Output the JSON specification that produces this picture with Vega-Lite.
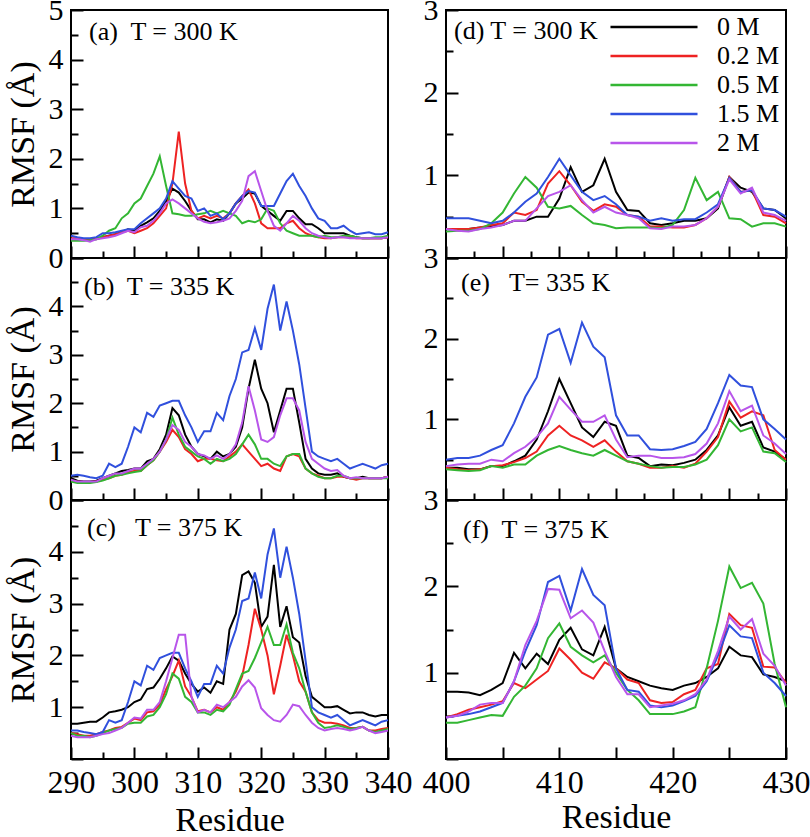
{
  "$schema": "https://vega.github.io/schema/vega-lite/v6.json",
  "background": "white",
  "padding": {"left": 5, "top": -6, "right": 0, "bottom": 0},
  "columns": 2,
  "spacing": {"row": 0, "column": 58},
  "bounds": "flush",
  "datasets": {
    "rmsf": [
      {"p":"a","r":290,"0 M":0.38,"0.2 M":0.40,"0.5 M":0.35,"1.5 M":0.45,"2 M":0.38},
      {"p":"a","r":291,"0 M":0.38,"0.2 M":0.40,"0.5 M":0.35,"1.5 M":0.42,"2 M":0.38},
      {"p":"a","r":292,"0 M":0.37,"0.2 M":0.38,"0.5 M":0.35,"1.5 M":0.40,"2 M":0.36},
      {"p":"a","r":293,"0 M":0.38,"0.2 M":0.38,"0.5 M":0.36,"1.5 M":0.40,"2 M":0.33},
      {"p":"a","r":294,"0 M":0.38,"0.2 M":0.40,"0.5 M":0.38,"1.5 M":0.42,"2 M":0.38},
      {"p":"a","r":295,"0 M":0.42,"0.2 M":0.42,"0.5 M":0.45,"1.5 M":0.50,"2 M":0.40},
      {"p":"a","r":296,"0 M":0.45,"0.2 M":0.45,"0.5 M":0.55,"1.5 M":0.50,"2 M":0.42},
      {"p":"a","r":297,"0 M":0.48,"0.2 M":0.48,"0.5 M":0.60,"1.5 M":0.52,"2 M":0.45},
      {"p":"a","r":298,"0 M":0.52,"0.2 M":0.52,"0.5 M":0.80,"1.5 M":0.55,"2 M":0.50},
      {"p":"a","r":299,"0 M":0.58,"0.2 M":0.55,"0.5 M":0.90,"1.5 M":0.58,"2 M":0.55},
      {"p":"a","r":300,"0 M":0.55,"0.2 M":0.50,"0.5 M":1.10,"1.5 M":0.58,"2 M":0.52},
      {"p":"a","r":301,"0 M":0.65,"0.2 M":0.55,"0.5 M":1.20,"1.5 M":0.70,"2 M":0.62},
      {"p":"a","r":302,"0 M":0.72,"0.2 M":0.60,"0.5 M":1.45,"1.5 M":0.80,"2 M":0.65},
      {"p":"a","r":303,"0 M":0.80,"0.2 M":0.70,"0.5 M":1.70,"1.5 M":0.90,"2 M":0.75},
      {"p":"a","r":304,"0 M":0.95,"0.2 M":0.85,"0.5 M":2.05,"1.5 M":1.00,"2 M":0.90},
      {"p":"a","r":305,"0 M":1.15,"0.2 M":1.00,"0.5 M":1.45,"1.5 M":1.20,"2 M":1.10},
      {"p":"a","r":306,"0 M":1.40,"0.2 M":1.50,"0.5 M":0.90,"1.5 M":1.55,"2 M":1.18},
      {"p":"a","r":307,"0 M":1.32,"0.2 M":2.55,"0.5 M":0.88,"1.5 M":1.40,"2 M":1.10},
      {"p":"a","r":308,"0 M":1.15,"0.2 M":1.50,"0.5 M":0.85,"1.5 M":1.25,"2 M":1.00},
      {"p":"a","r":309,"0 M":0.95,"0.2 M":0.95,"0.5 M":0.85,"1.5 M":1.20,"2 M":0.90},
      {"p":"a","r":310,"0 M":0.78,"0.2 M":0.80,"0.5 M":0.88,"1.5 M":0.95,"2 M":0.80},
      {"p":"a","r":311,"0 M":0.78,"0.2 M":0.85,"0.5 M":0.90,"1.5 M":1.00,"2 M":0.73},
      {"p":"a","r":312,"0 M":0.72,"0.2 M":0.80,"0.5 M":0.95,"1.5 M":0.85,"2 M":0.70},
      {"p":"a","r":313,"0 M":0.78,"0.2 M":0.85,"0.5 M":0.90,"1.5 M":0.90,"2 M":0.72},
      {"p":"a","r":314,"0 M":0.75,"0.2 M":0.80,"0.5 M":0.95,"1.5 M":0.78,"2 M":0.75},
      {"p":"a","r":315,"0 M":0.90,"0.2 M":0.90,"0.5 M":0.90,"1.5 M":0.90,"2 M":0.80},
      {"p":"a","r":316,"0 M":1.10,"0.2 M":1.10,"0.5 M":0.85,"1.5 M":1.10,"2 M":0.95},
      {"p":"a","r":317,"0 M":1.20,"0.2 M":1.25,"0.5 M":0.70,"1.5 M":1.25,"2 M":1.15},
      {"p":"a","r":318,"0 M":1.32,"0.2 M":1.38,"0.5 M":0.75,"1.5 M":1.35,"2 M":1.65},
      {"p":"a","r":319,"0 M":1.30,"0.2 M":1.10,"0.5 M":0.72,"1.5 M":1.32,"2 M":1.75},
      {"p":"a","r":320,"0 M":1.05,"0.2 M":0.70,"0.5 M":0.78,"1.5 M":1.05,"2 M":1.35},
      {"p":"a","r":321,"0 M":0.95,"0.2 M":0.60,"0.5 M":1.00,"1.5 M":1.05,"2 M":0.95},
      {"p":"a","r":322,"0 M":0.85,"0.2 M":0.60,"0.5 M":0.95,"1.5 M":1.05,"2 M":0.65},
      {"p":"a","r":323,"0 M":0.75,"0.2 M":0.60,"0.5 M":0.70,"1.5 M":1.30,"2 M":0.55},
      {"p":"a","r":324,"0 M":0.95,"0.2 M":0.70,"0.5 M":0.55,"1.5 M":1.55,"2 M":0.70},
      {"p":"a","r":325,"0 M":0.95,"0.2 M":0.75,"0.5 M":0.50,"1.5 M":1.70,"2 M":0.85},
      {"p":"a","r":326,"0 M":0.80,"0.2 M":0.60,"0.5 M":0.45,"1.5 M":1.45,"2 M":0.75},
      {"p":"a","r":327,"0 M":0.68,"0.2 M":0.50,"0.5 M":0.45,"1.5 M":1.25,"2 M":0.60},
      {"p":"a","r":328,"0 M":0.68,"0.2 M":0.45,"0.5 M":0.45,"1.5 M":1.00,"2 M":0.50},
      {"p":"a","r":329,"0 M":0.60,"0.2 M":0.42,"0.5 M":0.42,"1.5 M":0.80,"2 M":0.45},
      {"p":"a","r":330,"0 M":0.50,"0.2 M":0.40,"0.5 M":0.45,"1.5 M":0.75,"2 M":0.42},
      {"p":"a","r":331,"0 M":0.50,"0.2 M":0.40,"0.5 M":0.42,"1.5 M":0.60,"2 M":0.40},
      {"p":"a","r":332,"0 M":0.50,"0.2 M":0.42,"0.5 M":0.42,"1.5 M":0.60,"2 M":0.42},
      {"p":"a","r":333,"0 M":0.50,"0.2 M":0.42,"0.5 M":0.45,"1.5 M":0.65,"2 M":0.42},
      {"p":"a","r":334,"0 M":0.45,"0.2 M":0.42,"0.5 M":0.45,"1.5 M":0.55,"2 M":0.40},
      {"p":"a","r":335,"0 M":0.42,"0.2 M":0.40,"0.5 M":0.42,"1.5 M":0.48,"2 M":0.40},
      {"p":"a","r":336,"0 M":0.40,"0.2 M":0.40,"0.5 M":0.40,"1.5 M":0.50,"2 M":0.40},
      {"p":"a","r":337,"0 M":0.40,"0.2 M":0.40,"0.5 M":0.40,"1.5 M":0.52,"2 M":0.40},
      {"p":"a","r":338,"0 M":0.40,"0.2 M":0.40,"0.5 M":0.42,"1.5 M":0.48,"2 M":0.40},
      {"p":"a","r":339,"0 M":0.40,"0.2 M":0.40,"0.5 M":0.42,"1.5 M":0.48,"2 M":0.40},
      {"p":"a","r":340,"0 M":0.42,"0.2 M":0.42,"0.5 M":0.45,"1.5 M":0.52,"2 M":0.42},

      {"p":"b","r":290,"0 M":0.45,"0.2 M":0.40,"0.5 M":0.38,"1.5 M":0.50,"2 M":0.42},
      {"p":"b","r":291,"0 M":0.40,"0.2 M":0.38,"0.5 M":0.35,"1.5 M":0.52,"2 M":0.38},
      {"p":"b","r":292,"0 M":0.38,"0.2 M":0.37,"0.5 M":0.35,"1.5 M":0.50,"2 M":0.38},
      {"p":"b","r":293,"0 M":0.38,"0.2 M":0.37,"0.5 M":0.35,"1.5 M":0.47,"2 M":0.38},
      {"p":"b","r":294,"0 M":0.40,"0.2 M":0.38,"0.5 M":0.37,"1.5 M":0.45,"2 M":0.38},
      {"p":"b","r":295,"0 M":0.45,"0.2 M":0.42,"0.5 M":0.40,"1.5 M":0.50,"2 M":0.45},
      {"p":"b","r":296,"0 M":0.50,"0.2 M":0.45,"0.5 M":0.45,"1.5 M":0.75,"2 M":0.50},
      {"p":"b","r":297,"0 M":0.55,"0.2 M":0.50,"0.5 M":0.50,"1.5 M":0.68,"2 M":0.55},
      {"p":"b","r":298,"0 M":0.60,"0.2 M":0.52,"0.5 M":0.52,"1.5 M":0.75,"2 M":0.55},
      {"p":"b","r":299,"0 M":0.62,"0.2 M":0.58,"0.5 M":0.55,"1.5 M":1.10,"2 M":0.60},
      {"p":"b","r":300,"0 M":0.65,"0.2 M":0.60,"0.5 M":0.58,"1.5 M":1.50,"2 M":0.65},
      {"p":"b","r":301,"0 M":0.65,"0.2 M":0.60,"0.5 M":0.60,"1.5 M":1.40,"2 M":0.65},
      {"p":"b","r":302,"0 M":0.80,"0.2 M":0.72,"0.5 M":0.72,"1.5 M":1.80,"2 M":0.75},
      {"p":"b","r":303,"0 M":0.85,"0.2 M":0.82,"0.5 M":0.82,"1.5 M":1.72,"2 M":0.85},
      {"p":"b","r":304,"0 M":1.05,"0.2 M":1.00,"0.5 M":1.00,"1.5 M":1.95,"2 M":1.00},
      {"p":"b","r":305,"0 M":1.35,"0.2 M":1.20,"0.5 M":1.25,"1.5 M":2.00,"2 M":1.25},
      {"p":"b","r":306,"0 M":1.90,"0.2 M":1.45,"0.5 M":1.70,"1.5 M":2.05,"2 M":1.55},
      {"p":"b","r":307,"0 M":1.75,"0.2 M":1.30,"0.5 M":1.35,"1.5 M":2.05,"2 M":1.45},
      {"p":"b","r":308,"0 M":1.35,"0.2 M":1.05,"0.5 M":1.10,"1.5 M":1.75,"2 M":1.20},
      {"p":"b","r":309,"0 M":1.10,"0.2 M":0.95,"0.5 M":1.00,"1.5 M":1.50,"2 M":1.10},
      {"p":"b","r":310,"0 M":0.95,"0.2 M":0.80,"0.5 M":0.90,"1.5 M":1.20,"2 M":0.95},
      {"p":"b","r":311,"0 M":0.90,"0.2 M":0.85,"0.5 M":0.85,"1.5 M":1.42,"2 M":0.92},
      {"p":"b","r":312,"0 M":0.85,"0.2 M":0.85,"0.5 M":0.75,"1.5 M":1.42,"2 M":0.85},
      {"p":"b","r":313,"0 M":1.00,"0.2 M":0.82,"0.5 M":0.85,"1.5 M":1.80,"2 M":0.92},
      {"p":"b","r":314,"0 M":0.90,"0.2 M":0.80,"0.5 M":0.80,"1.5 M":1.65,"2 M":0.85},
      {"p":"b","r":315,"0 M":0.95,"0.2 M":0.90,"0.5 M":0.85,"1.5 M":2.15,"2 M":0.95},
      {"p":"b","r":316,"0 M":1.10,"0.2 M":1.00,"0.5 M":0.95,"1.5 M":2.50,"2 M":1.15},
      {"p":"b","r":317,"0 M":1.50,"0.2 M":1.15,"0.5 M":1.15,"1.5 M":3.05,"2 M":1.60},
      {"p":"b","r":318,"0 M":2.30,"0.2 M":1.00,"0.5 M":1.35,"1.5 M":3.10,"2 M":2.35},
      {"p":"b","r":319,"0 M":2.90,"0.2 M":0.85,"0.5 M":1.15,"1.5 M":3.55,"2 M":1.85},
      {"p":"b","r":320,"0 M":2.30,"0.2 M":0.70,"0.5 M":0.85,"1.5 M":3.10,"2 M":1.25},
      {"p":"b","r":321,"0 M":2.00,"0.2 M":0.75,"0.5 M":0.85,"1.5 M":3.95,"2 M":1.20},
      {"p":"b","r":322,"0 M":1.40,"0.2 M":0.65,"0.5 M":0.75,"1.5 M":4.45,"2 M":1.30},
      {"p":"b","r":323,"0 M":1.85,"0.2 M":0.60,"0.5 M":0.70,"1.5 M":3.50,"2 M":1.75},
      {"p":"b","r":324,"0 M":2.30,"0.2 M":0.90,"0.5 M":0.90,"1.5 M":4.10,"2 M":2.10},
      {"p":"b","r":325,"0 M":2.30,"0.2 M":0.95,"0.5 M":0.95,"1.5 M":3.50,"2 M":2.10},
      {"p":"b","r":326,"0 M":1.60,"0.2 M":0.90,"0.5 M":0.95,"1.5 M":2.80,"2 M":1.85},
      {"p":"b","r":327,"0 M":0.85,"0.2 M":0.65,"0.5 M":0.65,"1.5 M":1.90,"2 M":1.20},
      {"p":"b","r":328,"0 M":0.65,"0.2 M":0.55,"0.5 M":0.55,"1.5 M":1.00,"2 M":0.85},
      {"p":"b","r":329,"0 M":0.55,"0.2 M":0.50,"0.5 M":0.48,"1.5 M":0.90,"2 M":0.75},
      {"p":"b","r":330,"0 M":0.52,"0.2 M":0.45,"0.5 M":0.45,"1.5 M":0.85,"2 M":0.65},
      {"p":"b","r":331,"0 M":0.52,"0.2 M":0.45,"0.5 M":0.45,"1.5 M":0.80,"2 M":0.60},
      {"p":"b","r":332,"0 M":0.55,"0.2 M":0.48,"0.5 M":0.50,"1.5 M":0.85,"2 M":0.62},
      {"p":"b","r":333,"0 M":0.48,"0.2 M":0.48,"0.5 M":0.50,"1.5 M":0.75,"2 M":0.50},
      {"p":"b","r":334,"0 M":0.45,"0.2 M":0.45,"0.5 M":0.45,"1.5 M":0.65,"2 M":0.45},
      {"p":"b","r":335,"0 M":0.45,"0.2 M":0.42,"0.5 M":0.45,"1.5 M":0.70,"2 M":0.47},
      {"p":"b","r":336,"0 M":0.48,"0.2 M":0.45,"0.5 M":0.45,"1.5 M":0.75,"2 M":0.45},
      {"p":"b","r":337,"0 M":0.45,"0.2 M":0.45,"0.5 M":0.45,"1.5 M":0.70,"2 M":0.45},
      {"p":"b","r":338,"0 M":0.45,"0.2 M":0.45,"0.5 M":0.45,"1.5 M":0.65,"2 M":0.45},
      {"p":"b","r":339,"0 M":0.45,"0.2 M":0.45,"0.5 M":0.45,"1.5 M":0.72,"2 M":0.45},
      {"p":"b","r":340,"0 M":0.48,"0.2 M":0.48,"0.5 M":0.45,"1.5 M":0.75,"2 M":0.48},

      {"p":"c","r":290,"0 M":0.68,"0.2 M":0.50,"0.5 M":0.50,"1.5 M":0.55,"2 M":0.45},
      {"p":"c","r":291,"0 M":0.68,"0.2 M":0.48,"0.5 M":0.45,"1.5 M":0.55,"2 M":0.42},
      {"p":"c","r":292,"0 M":0.70,"0.2 M":0.45,"0.5 M":0.45,"1.5 M":0.52,"2 M":0.42},
      {"p":"c","r":293,"0 M":0.72,"0.2 M":0.45,"0.5 M":0.42,"1.5 M":0.50,"2 M":0.42},
      {"p":"c","r":294,"0 M":0.72,"0.2 M":0.48,"0.5 M":0.45,"1.5 M":0.48,"2 M":0.45},
      {"p":"c","r":295,"0 M":0.80,"0.2 M":0.52,"0.5 M":0.50,"1.5 M":0.52,"2 M":0.48},
      {"p":"c","r":296,"0 M":0.90,"0.2 M":0.55,"0.5 M":0.55,"1.5 M":0.75,"2 M":0.50},
      {"p":"c","r":297,"0 M":0.92,"0.2 M":0.60,"0.5 M":0.58,"1.5 M":0.70,"2 M":0.55},
      {"p":"c","r":298,"0 M":0.95,"0.2 M":0.62,"0.5 M":0.60,"1.5 M":0.75,"2 M":0.60},
      {"p":"c","r":299,"0 M":1.00,"0.2 M":0.70,"0.5 M":0.68,"1.5 M":1.10,"2 M":0.70},
      {"p":"c","r":300,"0 M":1.10,"0.2 M":0.78,"0.5 M":0.70,"1.5 M":1.50,"2 M":0.80},
      {"p":"c","r":301,"0 M":1.15,"0.2 M":0.75,"0.5 M":0.70,"1.5 M":1.42,"2 M":0.78},
      {"p":"c","r":302,"0 M":1.35,"0.2 M":0.90,"0.5 M":0.82,"1.5 M":1.80,"2 M":0.95},
      {"p":"c","r":303,"0 M":1.38,"0.2 M":0.92,"0.5 M":0.85,"1.5 M":1.72,"2 M":0.95},
      {"p":"c","r":304,"0 M":1.55,"0.2 M":1.05,"0.5 M":1.00,"1.5 M":1.95,"2 M":1.10},
      {"p":"c","r":305,"0 M":1.75,"0.2 M":1.35,"0.5 M":1.25,"1.5 M":2.00,"2 M":1.50},
      {"p":"c","r":306,"0 M":1.98,"0.2 M":1.60,"0.5 M":1.65,"1.5 M":2.05,"2 M":1.95},
      {"p":"c","r":307,"0 M":1.90,"0.2 M":1.90,"0.5 M":1.55,"1.5 M":2.05,"2 M":2.40},
      {"p":"c","r":308,"0 M":1.65,"0.2 M":1.40,"0.5 M":1.20,"1.5 M":1.75,"2 M":2.40},
      {"p":"c","r":309,"0 M":1.45,"0.2 M":1.20,"0.5 M":1.10,"1.5 M":1.50,"2 M":1.20},
      {"p":"c","r":310,"0 M":1.30,"0.2 M":0.92,"0.5 M":0.90,"1.5 M":1.20,"2 M":0.90},
      {"p":"c","r":311,"0 M":1.38,"0.2 M":0.95,"0.5 M":0.90,"1.5 M":1.45,"2 M":0.95},
      {"p":"c","r":312,"0 M":1.28,"0.2 M":0.90,"0.5 M":0.85,"1.5 M":1.45,"2 M":0.90},
      {"p":"c","r":313,"0 M":1.50,"0.2 M":1.00,"0.5 M":0.95,"1.5 M":1.80,"2 M":1.05},
      {"p":"c","r":314,"0 M":1.45,"0.2 M":0.95,"0.5 M":0.92,"1.5 M":1.65,"2 M":1.00},
      {"p":"c","r":315,"0 M":2.50,"0.2 M":1.10,"0.5 M":1.05,"1.5 M":2.15,"2 M":1.10},
      {"p":"c","r":316,"0 M":2.80,"0.2 M":1.30,"0.5 M":1.35,"1.5 M":2.50,"2 M":1.20},
      {"p":"c","r":317,"0 M":3.55,"0.2 M":1.60,"0.5 M":1.65,"1.5 M":3.05,"2 M":1.40},
      {"p":"c","r":318,"0 M":3.62,"0.2 M":2.20,"0.5 M":1.70,"1.5 M":3.10,"2 M":1.52},
      {"p":"c","r":319,"0 M":3.40,"0.2 M":2.90,"0.5 M":1.95,"1.5 M":3.60,"2 M":1.38},
      {"p":"c","r":320,"0 M":2.55,"0.2 M":2.50,"0.5 M":2.25,"1.5 M":3.10,"2 M":0.98},
      {"p":"c","r":321,"0 M":2.75,"0.2 M":2.00,"0.5 M":2.55,"1.5 M":3.95,"2 M":0.85},
      {"p":"c","r":322,"0 M":3.75,"0.2 M":1.25,"0.5 M":2.20,"1.5 M":4.45,"2 M":0.75},
      {"p":"c","r":323,"0 M":2.55,"0.2 M":1.80,"0.5 M":2.20,"1.5 M":3.50,"2 M":0.72},
      {"p":"c","r":324,"0 M":2.95,"0.2 M":2.40,"0.5 M":2.60,"1.5 M":4.10,"2 M":0.85},
      {"p":"c","r":325,"0 M":2.35,"0.2 M":2.00,"0.5 M":2.05,"1.5 M":3.50,"2 M":1.05},
      {"p":"c","r":326,"0 M":2.25,"0.2 M":1.50,"0.5 M":1.75,"1.5 M":2.80,"2 M":1.02},
      {"p":"c","r":327,"0 M":1.60,"0.2 M":1.30,"0.5 M":1.30,"1.5 M":1.90,"2 M":0.85},
      {"p":"c","r":328,"0 M":1.20,"0.2 M":0.90,"0.5 M":0.90,"1.5 M":1.00,"2 M":0.70},
      {"p":"c","r":329,"0 M":1.10,"0.2 M":0.75,"0.5 M":0.70,"1.5 M":0.90,"2 M":0.60},
      {"p":"c","r":330,"0 M":1.00,"0.2 M":0.70,"0.5 M":0.60,"1.5 M":0.85,"2 M":0.55},
      {"p":"c","r":331,"0 M":1.00,"0.2 M":0.70,"0.5 M":0.62,"1.5 M":0.80,"2 M":0.58},
      {"p":"c","r":332,"0 M":1.02,"0.2 M":0.68,"0.5 M":0.65,"1.5 M":0.85,"2 M":0.60},
      {"p":"c","r":333,"0 M":0.95,"0.2 M":0.65,"0.5 M":0.62,"1.5 M":0.75,"2 M":0.58},
      {"p":"c","r":334,"0 M":0.88,"0.2 M":0.60,"0.5 M":0.58,"1.5 M":0.65,"2 M":0.55},
      {"p":"c","r":335,"0 M":0.90,"0.2 M":0.60,"0.5 M":0.60,"1.5 M":0.70,"2 M":0.58},
      {"p":"c","r":336,"0 M":0.90,"0.2 M":0.62,"0.5 M":0.62,"1.5 M":0.75,"2 M":0.62},
      {"p":"c","r":337,"0 M":0.85,"0.2 M":0.55,"0.5 M":0.55,"1.5 M":0.70,"2 M":0.55},
      {"p":"c","r":338,"0 M":0.82,"0.2 M":0.55,"0.5 M":0.52,"1.5 M":0.65,"2 M":0.50},
      {"p":"c","r":339,"0 M":0.85,"0.2 M":0.58,"0.5 M":0.55,"1.5 M":0.72,"2 M":0.52},
      {"p":"c","r":340,"0 M":0.85,"0.2 M":0.60,"0.5 M":0.58,"1.5 M":0.75,"2 M":0.55},

      {"p":"d","r":400,"0 M":0.35,"0.2 M":0.35,"0.5 M":0.32,"1.5 M":0.48,"2 M":0.35},
      {"p":"d","r":401,"0 M":0.35,"0.2 M":0.35,"0.5 M":0.33,"1.5 M":0.48,"2 M":0.33},
      {"p":"d","r":402,"0 M":0.35,"0.2 M":0.35,"0.5 M":0.33,"1.5 M":0.48,"2 M":0.32},
      {"p":"d","r":403,"0 M":0.37,"0.2 M":0.37,"0.5 M":0.35,"1.5 M":0.45,"2 M":0.35},
      {"p":"d","r":404,"0 M":0.38,"0.2 M":0.40,"0.5 M":0.42,"1.5 M":0.42,"2 M":0.37},
      {"p":"d","r":405,"0 M":0.40,"0.2 M":0.42,"0.5 M":0.55,"1.5 M":0.45,"2 M":0.40},
      {"p":"d","r":406,"0 M":0.45,"0.2 M":0.55,"0.5 M":0.78,"1.5 M":0.55,"2 M":0.45},
      {"p":"d","r":407,"0 M":0.45,"0.2 M":0.52,"0.5 M":0.98,"1.5 M":0.68,"2 M":0.45},
      {"p":"d","r":408,"0 M":0.50,"0.2 M":0.58,"0.5 M":0.85,"1.5 M":0.78,"2 M":0.60},
      {"p":"d","r":409,"0 M":0.50,"0.2 M":0.90,"0.5 M":0.62,"1.5 M":0.98,"2 M":0.75},
      {"p":"d","r":410,"0 M":0.72,"0.2 M":1.05,"0.5 M":0.60,"1.5 M":1.20,"2 M":0.80},
      {"p":"d","r":411,"0 M":1.10,"0.2 M":0.88,"0.5 M":0.63,"1.5 M":1.00,"2 M":0.88},
      {"p":"d","r":412,"0 M":0.80,"0.2 M":0.68,"0.5 M":0.52,"1.5 M":0.80,"2 M":0.70},
      {"p":"d","r":413,"0 M":0.88,"0.2 M":0.57,"0.5 M":0.42,"1.5 M":0.70,"2 M":0.55},
      {"p":"d","r":414,"0 M":1.20,"0.2 M":0.65,"0.5 M":0.40,"1.5 M":0.75,"2 M":0.62},
      {"p":"d","r":415,"0 M":0.80,"0.2 M":0.62,"0.5 M":0.36,"1.5 M":0.65,"2 M":0.55},
      {"p":"d","r":416,"0 M":0.58,"0.2 M":0.52,"0.5 M":0.37,"1.5 M":0.52,"2 M":0.52},
      {"p":"d","r":417,"0 M":0.57,"0.2 M":0.50,"0.5 M":0.37,"1.5 M":0.50,"2 M":0.48},
      {"p":"d","r":418,"0 M":0.42,"0.2 M":0.38,"0.5 M":0.37,"1.5 M":0.45,"2 M":0.36},
      {"p":"d","r":419,"0 M":0.40,"0.2 M":0.38,"0.5 M":0.36,"1.5 M":0.48,"2 M":0.35},
      {"p":"d","r":420,"0 M":0.42,"0.2 M":0.37,"0.5 M":0.40,"1.5 M":0.45,"2 M":0.38},
      {"p":"d","r":421,"0 M":0.45,"0.2 M":0.37,"0.5 M":0.58,"1.5 M":0.47,"2 M":0.38},
      {"p":"d","r":422,"0 M":0.45,"0.2 M":0.40,"0.5 M":0.97,"1.5 M":0.47,"2 M":0.40},
      {"p":"d","r":423,"0 M":0.48,"0.2 M":0.48,"0.5 M":0.70,"1.5 M":0.55,"2 M":0.48},
      {"p":"d","r":424,"0 M":0.60,"0.2 M":0.62,"0.5 M":0.80,"1.5 M":0.65,"2 M":0.62},
      {"p":"d","r":425,"0 M":0.98,"0.2 M":0.98,"0.5 M":0.48,"1.5 M":0.97,"2 M":0.95},
      {"p":"d","r":426,"0 M":0.85,"0.2 M":0.80,"0.5 M":0.47,"1.5 M":0.80,"2 M":0.78},
      {"p":"d","r":427,"0 M":0.80,"0.2 M":0.82,"0.5 M":0.38,"1.5 M":0.82,"2 M":0.85},
      {"p":"d","r":428,"0 M":0.60,"0.2 M":0.52,"0.5 M":0.42,"1.5 M":0.60,"2 M":0.55},
      {"p":"d","r":429,"0 M":0.58,"0.2 M":0.50,"0.5 M":0.42,"1.5 M":0.58,"2 M":0.52},
      {"p":"d","r":430,"0 M":0.48,"0.2 M":0.42,"0.5 M":0.38,"1.5 M":0.50,"2 M":0.45},

      {"p":"e","r":400,"0 M":0.40,"0.2 M":0.40,"0.5 M":0.38,"1.5 M":0.50,"2 M":0.42},
      {"p":"e","r":401,"0 M":0.40,"0.2 M":0.38,"0.5 M":0.37,"1.5 M":0.52,"2 M":0.44},
      {"p":"e","r":402,"0 M":0.38,"0.2 M":0.37,"0.5 M":0.36,"1.5 M":0.52,"2 M":0.45},
      {"p":"e","r":403,"0 M":0.38,"0.2 M":0.38,"0.5 M":0.37,"1.5 M":0.55,"2 M":0.45},
      {"p":"e","r":404,"0 M":0.42,"0.2 M":0.42,"0.5 M":0.42,"1.5 M":0.62,"2 M":0.50},
      {"p":"e","r":405,"0 M":0.42,"0.2 M":0.43,"0.5 M":0.40,"1.5 M":0.68,"2 M":0.48},
      {"p":"e","r":406,"0 M":0.48,"0.2 M":0.47,"0.5 M":0.44,"1.5 M":0.95,"2 M":0.58},
      {"p":"e","r":407,"0 M":0.55,"0.2 M":0.52,"0.5 M":0.44,"1.5 M":1.28,"2 M":0.66},
      {"p":"e","r":408,"0 M":0.75,"0.2 M":0.60,"0.5 M":0.55,"1.5 M":1.52,"2 M":0.78},
      {"p":"e","r":409,"0 M":1.10,"0.2 M":0.80,"0.5 M":0.62,"1.5 M":2.05,"2 M":0.95},
      {"p":"e","r":410,"0 M":1.50,"0.2 M":0.92,"0.5 M":0.67,"1.5 M":2.12,"2 M":1.28},
      {"p":"e","r":411,"0 M":1.20,"0.2 M":0.80,"0.5 M":0.62,"1.5 M":1.70,"2 M":1.12},
      {"p":"e","r":412,"0 M":0.90,"0.2 M":0.74,"0.5 M":0.58,"1.5 M":2.20,"2 M":0.97},
      {"p":"e","r":413,"0 M":0.78,"0.2 M":0.66,"0.5 M":0.55,"1.5 M":1.90,"2 M":0.97},
      {"p":"e","r":414,"0 M":0.97,"0.2 M":0.74,"0.5 M":0.62,"1.5 M":1.77,"2 M":1.05},
      {"p":"e","r":415,"0 M":0.92,"0.2 M":0.60,"0.5 M":0.55,"1.5 M":1.05,"2 M":0.75},
      {"p":"e","r":416,"0 M":0.55,"0.2 M":0.48,"0.5 M":0.48,"1.5 M":0.80,"2 M":0.53},
      {"p":"e","r":417,"0 M":0.52,"0.2 M":0.45,"0.5 M":0.45,"1.5 M":0.80,"2 M":0.55},
      {"p":"e","r":418,"0 M":0.42,"0.2 M":0.40,"0.5 M":0.42,"1.5 M":0.63,"2 M":0.55},
      {"p":"e","r":419,"0 M":0.44,"0.2 M":0.40,"0.5 M":0.40,"1.5 M":0.62,"2 M":0.52},
      {"p":"e","r":420,"0 M":0.43,"0.2 M":0.42,"0.5 M":0.41,"1.5 M":0.63,"2 M":0.52},
      {"p":"e","r":421,"0 M":0.46,"0.2 M":0.40,"0.5 M":0.41,"1.5 M":0.67,"2 M":0.53},
      {"p":"e","r":422,"0 M":0.50,"0.2 M":0.45,"0.5 M":0.44,"1.5 M":0.72,"2 M":0.57},
      {"p":"e","r":423,"0 M":0.62,"0.2 M":0.60,"0.5 M":0.50,"1.5 M":0.88,"2 M":0.70},
      {"p":"e","r":424,"0 M":0.80,"0.2 M":0.78,"0.5 M":0.68,"1.5 M":1.20,"2 M":0.95},
      {"p":"e","r":425,"0 M":1.15,"0.2 M":1.22,"0.5 M":1.00,"1.5 M":1.55,"2 M":1.35},
      {"p":"e","r":426,"0 M":0.92,"0.2 M":1.02,"0.5 M":0.85,"1.5 M":1.42,"2 M":1.10},
      {"p":"e","r":427,"0 M":0.97,"0.2 M":1.10,"0.5 M":0.90,"1.5 M":1.40,"2 M":1.17},
      {"p":"e","r":428,"0 M":0.65,"0.2 M":1.05,"0.5 M":0.60,"1.5 M":1.00,"2 M":0.80},
      {"p":"e","r":429,"0 M":0.60,"0.2 M":0.62,"0.5 M":0.58,"1.5 M":0.88,"2 M":0.70},
      {"p":"e","r":430,"0 M":0.50,"0.2 M":0.50,"0.5 M":0.47,"1.5 M":0.75,"2 M":0.57},

      {"p":"f","r":400,"0 M":0.78,"0.2 M":0.48,"0.5 M":0.42,"1.5 M":0.48,"2 M":0.48},
      {"p":"f","r":401,"0 M":0.78,"0.2 M":0.52,"0.5 M":0.42,"1.5 M":0.50,"2 M":0.50},
      {"p":"f","r":402,"0 M":0.77,"0.2 M":0.57,"0.5 M":0.45,"1.5 M":0.52,"2 M":0.55},
      {"p":"f","r":403,"0 M":0.74,"0.2 M":0.60,"0.5 M":0.48,"1.5 M":0.55,"2 M":0.63},
      {"p":"f","r":404,"0 M":0.80,"0.2 M":0.63,"0.5 M":0.51,"1.5 M":0.60,"2 M":0.65},
      {"p":"f","r":405,"0 M":0.88,"0.2 M":0.67,"0.5 M":0.50,"1.5 M":0.65,"2 M":0.65},
      {"p":"f","r":406,"0 M":1.23,"0.2 M":0.88,"0.5 M":0.72,"1.5 M":0.90,"2 M":0.90},
      {"p":"f","r":407,"0 M":1.05,"0.2 M":0.82,"0.5 M":0.85,"1.5 M":1.25,"2 M":1.32},
      {"p":"f","r":408,"0 M":1.22,"0.2 M":0.92,"0.5 M":1.05,"1.5 M":1.55,"2 M":1.60},
      {"p":"f","r":409,"0 M":1.10,"0.2 M":1.02,"0.5 M":1.40,"1.5 M":2.05,"2 M":1.97},
      {"p":"f","r":410,"0 M":1.38,"0.2 M":1.28,"0.5 M":1.57,"1.5 M":2.12,"2 M":1.96},
      {"p":"f","r":411,"0 M":1.52,"0.2 M":1.15,"0.5 M":1.30,"1.5 M":1.72,"2 M":1.63},
      {"p":"f","r":412,"0 M":1.27,"0.2 M":1.00,"0.5 M":1.20,"1.5 M":2.20,"2 M":1.72},
      {"p":"f","r":413,"0 M":1.20,"0.2 M":0.93,"0.5 M":1.12,"1.5 M":1.90,"2 M":1.58},
      {"p":"f","r":414,"0 M":1.53,"0.2 M":1.12,"0.5 M":1.20,"1.5 M":1.78,"2 M":1.25},
      {"p":"f","r":415,"0 M":1.05,"0.2 M":1.05,"0.5 M":1.00,"1.5 M":1.05,"2 M":0.95},
      {"p":"f","r":416,"0 M":0.95,"0.2 M":0.92,"0.5 M":0.80,"1.5 M":0.80,"2 M":0.75},
      {"p":"f","r":417,"0 M":0.90,"0.2 M":0.88,"0.5 M":0.68,"1.5 M":0.78,"2 M":0.75},
      {"p":"f","r":418,"0 M":0.85,"0.2 M":0.68,"0.5 M":0.52,"1.5 M":0.62,"2 M":0.60},
      {"p":"f","r":419,"0 M":0.82,"0.2 M":0.65,"0.5 M":0.52,"1.5 M":0.60,"2 M":0.62},
      {"p":"f","r":420,"0 M":0.80,"0.2 M":0.66,"0.5 M":0.52,"1.5 M":0.62,"2 M":0.64},
      {"p":"f","r":421,"0 M":0.85,"0.2 M":0.75,"0.5 M":0.55,"1.5 M":0.67,"2 M":0.68},
      {"p":"f","r":422,"0 M":0.88,"0.2 M":0.80,"0.5 M":0.60,"1.5 M":0.73,"2 M":0.75},
      {"p":"f","r":423,"0 M":0.95,"0.2 M":1.05,"0.5 M":1.05,"1.5 M":0.90,"2 M":0.92},
      {"p":"f","r":424,"0 M":1.05,"0.2 M":1.10,"0.5 M":1.60,"1.5 M":1.20,"2 M":1.25},
      {"p":"f","r":425,"0 M":1.30,"0.2 M":1.68,"0.5 M":2.23,"1.5 M":1.55,"2 M":1.65},
      {"p":"f","r":426,"0 M":1.20,"0.2 M":1.55,"0.5 M":1.98,"1.5 M":1.42,"2 M":1.50},
      {"p":"f","r":427,"0 M":1.18,"0.2 M":1.52,"0.5 M":2.04,"1.5 M":1.40,"2 M":1.62},
      {"p":"f","r":428,"0 M":0.98,"0.2 M":1.07,"0.5 M":1.80,"1.5 M":1.00,"2 M":1.22},
      {"p":"f","r":429,"0 M":0.95,"0.2 M":1.06,"0.5 M":1.10,"1.5 M":0.88,"2 M":1.08},
      {"p":"f","r":430,"0 M":0.90,"0.2 M":0.88,"0.5 M":0.60,"1.5 M":0.73,"2 M":0.85}
    ]
  },
  "concat": [
    {
      "width": 317, "height": 248,
      "data": {"name": "rmsf"},
      "transform": [{"filter": "datum.p === 'a'"}, {"fold": ["0 M", "0\\.2 M", "0\\.5 M", "1\\.5 M", "2 M"], "as": ["conc", "rmsf"]}],
      "title": {"text": "(a)\u00a0 T = 300 K", "dx": 18, "dy": 54},
      "mark": {"type": "line", "strokeWidth": 2},
      "encoding": {
        "x": {"field": "r", "type": "quantitative", "scale": {"domain": [290, 340], "nice": false, "zero": false},
          "axis": {"values": [290,295,300,305,310,315,320,325,330,335,340], "labels": false, "title": null,
            "tickSize": {"condition": {"test": "datum.value % 10 === 0", "value": -12}, "value": -7}}},
        "y": {"field": "rmsf", "type": "quantitative", "scale": {"domain": [0, 5], "nice": false},
          "axis": {"values": [0,0.5,1,1.5,2,2.5,3,3.5,4,4.5,5], "title": "RMSF (Å)", "titlePadding": 8, "labelPadding": 20,
            "labelExpr": "datum.value % 1 === 0 ? '' + datum.value : ''",
            "tickSize": {"condition": {"test": "datum.value % 1 === 0", "value": -12}, "value": -7}}},
        "color": {"field": "conc", "type": "nominal",
          "scale": {"domain": ["0 M", "0.2 M", "0.5 M", "1.5 M", "2 M"], "range": ["#000000", "#ee2222", "#33b633", "#3050dd", "#b855ea"]},
          "legend": {"orient": "none", "legendX": 570, "legendY": 4, "title": null, "symbolType": "M-5,0H5", "symbolSize": 303, "symbolStrokeWidth": 2.5, "labelFont": "Liberation Serif", "labelFontSize": 26, "labelColor": "#000", "labelOffset": 50, "rowPadding": 3, "padding": 0}}
      }
    },
    {
      "width": 340, "height": 248,
      "data": {"name": "rmsf"},
      "transform": [{"filter": "datum.p === 'd'"}, {"fold": ["0 M", "0\\.2 M", "0\\.5 M", "1\\.5 M", "2 M"], "as": ["conc", "rmsf"]}],
      "title": {"text": "(d) T = 300 K", "dx": 8, "dy": 53},
      "mark": {"type": "line", "strokeWidth": 2},
      "encoding": {
        "x": {"field": "r", "type": "quantitative", "scale": {"domain": [400, 430], "nice": false, "zero": false},
          "axis": {"values": [400,402.5,405,407.5,410,412.5,415,417.5,420,422.5,425,427.5,430], "labels": false, "title": null,
            "tickSize": {"condition": {"test": "datum.value % 5 === 0", "value": -12}, "value": -7}}},
        "y": {"field": "rmsf", "type": "quantitative", "scale": {"domain": [0, 3], "nice": false},
          "axis": {"values": [0,0.5,1,1.5,2,2.5,3], "title": null, "labelPadding": 20,
            "labelExpr": "datum.value % 1 === 0 && datum.value > 0 ? '' + datum.value : ''",
            "tickSize": {"condition": {"test": "datum.value % 1 === 0", "value": -12}, "value": -7}}},
        "color": {"field": "conc", "type": "nominal",
          "scale": {"domain": ["0 M", "0.2 M", "0.5 M", "1.5 M", "2 M"], "range": ["#000000", "#ee2222", "#33b633", "#3050dd", "#b855ea"]},
          "legend": {"orient": "none", "legendX": 570, "legendY": 4, "title": null, "symbolType": "M-5,0H5", "symbolSize": 303, "symbolStrokeWidth": 2.5, "labelFont": "Liberation Serif", "labelFontSize": 26, "labelColor": "#000", "labelOffset": 50, "rowPadding": 3, "padding": 0}}
      }
    },
    {
      "width": 317, "height": 242,
      "data": {"name": "rmsf"},
      "transform": [{"filter": "datum.p === 'b'"}, {"fold": ["0 M", "0\\.2 M", "0\\.5 M", "1\\.5 M", "2 M"], "as": ["conc", "rmsf"]}],
      "title": {"text": "(b)\u00a0 T = 335 K", "dx": 13, "dy": 61},
      "mark": {"type": "line", "strokeWidth": 2},
      "encoding": {
        "x": {"field": "r", "type": "quantitative", "scale": {"domain": [290, 340], "nice": false, "zero": false},
          "axis": {"values": [290,295,300,305,310,315,320,325,330,335,340], "labels": false, "title": null,
            "tickSize": {"condition": {"test": "datum.value % 10 === 0", "value": -12}, "value": -7}}},
        "y": {"field": "rmsf", "type": "quantitative", "scale": {"domain": [0, 5], "nice": false},
          "axis": {"values": [0,0.5,1,1.5,2,2.5,3,3.5,4,4.5,5], "title": "RMSF (Å)", "titlePadding": 8, "labelPadding": 20,
            "labelExpr": "datum.value % 1 === 0 && datum.value < 5 ? '' + datum.value : ''",
            "tickSize": {"condition": {"test": "datum.value % 1 === 0", "value": -12}, "value": -7}}},
        "color": {"field": "conc", "type": "nominal",
          "scale": {"domain": ["0 M", "0.2 M", "0.5 M", "1.5 M", "2 M"], "range": ["#000000", "#ee2222", "#33b633", "#3050dd", "#b855ea"]},
          "legend": {"orient": "none", "legendX": 570, "legendY": 4, "title": null, "symbolType": "M-5,0H5", "symbolSize": 303, "symbolStrokeWidth": 2.5, "labelFont": "Liberation Serif", "labelFontSize": 26, "labelColor": "#000", "labelOffset": 50, "rowPadding": 3, "padding": 0}}
      }
    },
    {
      "width": 340, "height": 242,
      "data": {"name": "rmsf"},
      "transform": [{"filter": "datum.p === 'e'"}, {"fold": ["0 M", "0\\.2 M", "0\\.5 M", "1\\.5 M", "2 M"], "as": ["conc", "rmsf"]}],
      "title": {"text": "(e)\u00a0\u00a0 T= 335 K", "dx": 15, "dy": 57},
      "mark": {"type": "line", "strokeWidth": 2},
      "encoding": {
        "x": {"field": "r", "type": "quantitative", "scale": {"domain": [400, 430], "nice": false, "zero": false},
          "axis": {"values": [400,402.5,405,407.5,410,412.5,415,417.5,420,422.5,425,427.5,430], "labels": false, "title": null,
            "tickSize": {"condition": {"test": "datum.value % 5 === 0", "value": -12}, "value": -7}}},
        "y": {"field": "rmsf", "type": "quantitative", "scale": {"domain": [0, 3], "nice": false},
          "axis": {"values": [0,0.5,1,1.5,2,2.5,3], "title": null, "labelPadding": 20,
            "labelExpr": "datum.value % 1 === 0 && datum.value > 0 ? '' + datum.value : ''",
            "tickSize": {"condition": {"test": "datum.value % 1 === 0", "value": -12}, "value": -7}}},
        "color": {"field": "conc", "type": "nominal",
          "scale": {"domain": ["0 M", "0.2 M", "0.5 M", "1.5 M", "2 M"], "range": ["#000000", "#ee2222", "#33b633", "#3050dd", "#b855ea"]},
          "legend": {"orient": "none", "legendX": 570, "legendY": 4, "title": null, "symbolType": "M-5,0H5", "symbolSize": 303, "symbolStrokeWidth": 2.5, "labelFont": "Liberation Serif", "labelFontSize": 26, "labelColor": "#000", "labelOffset": 50, "rowPadding": 3, "padding": 0}}
      }
    },
    {
      "width": 317, "height": 259,
      "data": {"name": "rmsf"},
      "transform": [{"filter": "datum.p === 'c'"}, {"fold": ["0 M", "0\\.2 M", "0\\.5 M", "1\\.5 M", "2 M"], "as": ["conc", "rmsf"]}],
      "title": {"text": "(c)\u00a0\u00a0 T = 375 K", "dx": 16, "dy": 60},
      "mark": {"type": "line", "strokeWidth": 2},
      "encoding": {
        "x": {"field": "r", "type": "quantitative", "scale": {"domain": [290, 340], "nice": false, "zero": false},
          "axis": {"values": [290,295,300,305,310,315,320,325,330,335,340], "title": "Residue", "titlePadding": 0, "labelPadding": 20,
            "labelExpr": "datum.value % 10 === 0 ? '' + datum.value : ''",
            "tickSize": {"condition": {"test": "datum.value % 10 === 0", "value": -12}, "value": -7}}},
        "y": {"field": "rmsf", "type": "quantitative", "scale": {"domain": [0, 5], "nice": false},
          "axis": {"values": [0,0.5,1,1.5,2,2.5,3,3.5,4,4.5,5], "title": "RMSF (Å)", "titlePadding": 8, "labelPadding": 20,
            "labelExpr": "datum.value % 1 === 0 && datum.value > 0 && datum.value < 5 ? '' + datum.value : ''",
            "tickSize": {"condition": {"test": "datum.value % 1 === 0", "value": -12}, "value": -7}}},
        "color": {"field": "conc", "type": "nominal",
          "scale": {"domain": ["0 M", "0.2 M", "0.5 M", "1.5 M", "2 M"], "range": ["#000000", "#ee2222", "#33b633", "#3050dd", "#b855ea"]},
          "legend": {"orient": "none", "legendX": 570, "legendY": 4, "title": null, "symbolType": "M-5,0H5", "symbolSize": 303, "symbolStrokeWidth": 2.5, "labelFont": "Liberation Serif", "labelFontSize": 26, "labelColor": "#000", "labelOffset": 50, "rowPadding": 3, "padding": 0}}
      }
    },
    {
      "width": 340, "height": 259,
      "data": {"name": "rmsf"},
      "transform": [{"filter": "datum.p === 'f'"}, {"fold": ["0 M", "0\\.2 M", "0\\.5 M", "1\\.5 M", "2 M"], "as": ["conc", "rmsf"]}],
      "title": {"text": "(f)\u00a0 T = 375 K", "dx": 17, "dy": 62},
      "mark": {"type": "line", "strokeWidth": 2},
      "encoding": {
        "x": {"field": "r", "type": "quantitative", "scale": {"domain": [400, 430], "nice": false, "zero": false},
          "axis": {"values": [400,405,410,415,420,425,430], "title": "Residue", "titlePadding": 2, "labelPadding": 20,
            "labelExpr": "datum.value % 10 === 0 ? '' + datum.value : ''",
            "tickSize": -12}},
        "y": {"field": "rmsf", "type": "quantitative", "scale": {"domain": [0, 3], "nice": false},
          "axis": {"values": [0,0.5,1,1.5,2,2.5,3], "title": null, "labelPadding": 20,
            "labelExpr": "datum.value % 1 === 0 && datum.value > 0 ? '' + datum.value : ''",
            "tickSize": {"condition": {"test": "datum.value % 1 === 0", "value": -12}, "value": -7}}},
        "color": {"field": "conc", "type": "nominal",
          "scale": {"domain": ["0 M", "0.2 M", "0.5 M", "1.5 M", "2 M"], "range": ["#000000", "#ee2222", "#33b633", "#3050dd", "#b855ea"]},
          "legend": {"orient": "none", "legendX": 570, "legendY": 4, "title": null, "symbolType": "M-5,0H5", "symbolSize": 303, "symbolStrokeWidth": 2.5, "labelFont": "Liberation Serif", "labelFontSize": 26, "labelColor": "#000", "labelOffset": 50, "rowPadding": 3, "padding": 0}}
      }
    }
  ],
  "config": {
    "font": "Liberation Serif",
    "view": {"stroke": "#000000", "strokeWidth": 2},
    "axis": {"domain": false, "grid": false, "labelFont": "Liberation Serif", "labelFontSize": 32, "labelColor": "#000000", "titleFont": "Liberation Serif", "titleFontSize": 34, "titleFontWeight": "normal", "titleColor": "#000000", "tickColor": "#000000", "tickWidth": 2, "labelOverlap": false, "labelFlush": false, "labelBound": false},
    "axisY": {"labelFontSize": 30},
    "title": {"font": "Liberation Serif", "fontSize": 26, "fontWeight": "normal", "anchor": "start", "color": "#000000", "frame": "group", "baseline": "alphabetic", "offset": 0}
  }
}
